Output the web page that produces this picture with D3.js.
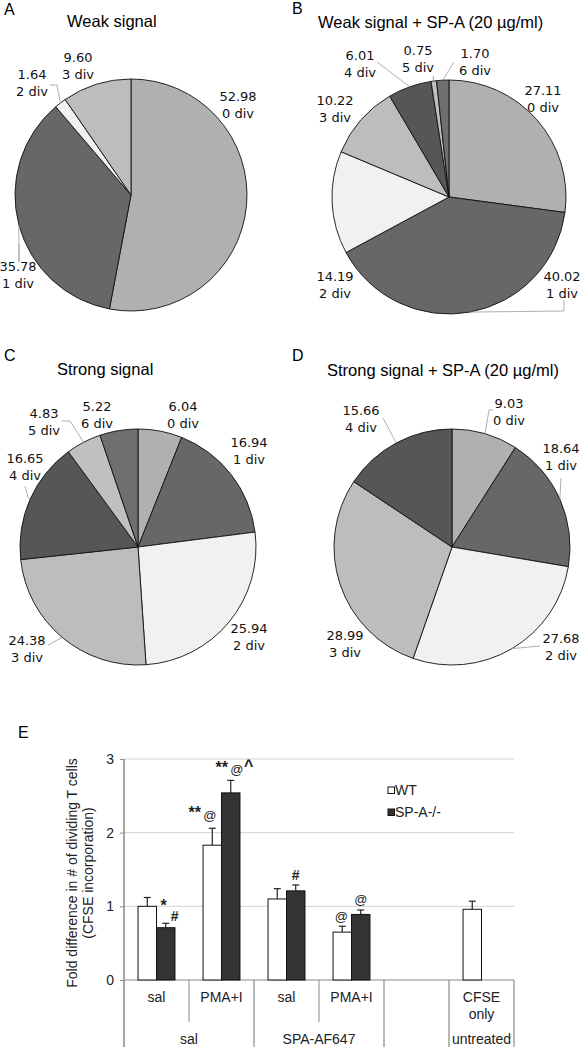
<!DOCTYPE html>
<html><head><meta charset="utf-8">
<script src="https://cdn.jsdelivr.net/npm/d3@7"></script>
<style>body{margin:0;background:#fff}svg{display:block}</style>
</head><body>
<svg id="c" width="582" height="1047"></svg>
<script>
// ---------- data ----------
const divLabels = ["0 div","1 div","2 div","3 div","4 div","5 div","6 div"];
const pieA = [52.98, 35.78, 1.64, 9.60];
const pieB = [27.11, 40.02, 14.19, 10.22, 6.01, 0.75, 1.70];
const pieC = [6.04, 16.94, 25.94, 24.38, 16.65, 4.83, 5.22];
const pieD = [9.03, 18.64, 27.68, 28.99, 15.66];
const pieTitles = ["Weak signal","Weak signal + SP-A (20 µg/ml)","Strong signal","Strong signal + SP-A (20 µg/ml)"];
const panelLetters = ["A","B","C","D","E"];

const barCategories = ["sal","PMA+I","sal","PMA+I","","CFSE only"];
const barGroups = ["sal","SPA-AF647","untreated"];
const seriesNames = ["WT","SP-A-/-"];
const wtValues  = [1.00, 1.83, 1.10, 0.65, null, 0.96];
const wtErrors  = [0.12, 0.23, 0.14, 0.08, null, 0.11];
const spaValues = [0.71, 2.54, 1.21, 0.89, null, null];
const spaErrors = [0.06, 0.17, 0.08, 0.06, null, null];
const yTicks = [0,1,2,3];
const yTitle = ["Fold difference in # of dividing T cells","(CFSE incorporation)"];

(function(){
// ---------- styling / layout ----------
const sliceColors = ["#b0b0b0","#676767","#f1f1f1","#bdbdbd","#565656","#c0c0c0","#6f6f6f"];
const svg = d3.select("#c");
const sans = "Liberation Sans, Arial, sans-serif";
const verd = "DejaVu Sans, Verdana, sans-serif";

const pies = [
  {vals: pieA, cx:131, cy:195, r:116, letter:[4,15], title:[67,27],
   labels:[[238,96],[18,266],[32,74],[78,57]],
   leaders:[null,[[19,244],[19,262]],[[50,85],[57,85]],null]},
  {vals: pieB, cx:449, cy:197, r:117, letter:[292,14], title:[318,28],
   labels:[[543,90],[562,276],[335,276],[335,100],[360,55],[418,50],[475,53]],
   leaders:[null,[[564,300],[564,311]],null,null,[[377,62]],[[433,76]],[[454,62]]]},
  {vals: pieC, cx:138, cy:547, r:118, letter:[4,361], title:[57,375],
   labels:[[183,406],[249,442],[249,628],[27,640],[25,458],[44,413],[97,406]],
   leaders:[null,null,null,[[48,645]],[[25,486],[28,497]],[[62,421],[70,421]],null]},
  {vals: pieD, cx:452, cy:547, r:118, letter:[292,361], title:[327,376],
   labels:[[509,403],[561,448],[561,638],[345,635],[361,410]],
   leaders:[[[493,410],[489,410]],[[561,478]],[[540,646]],null,[[383,418]]]}
];

pies.forEach((p,pi)=>{
  const g = svg.append("g");
  g.append("text").attr("x",p.letter[0]).attr("y",p.letter[1]).attr("font-family",sans)
    .attr("font-size",16).text(panelLetters[pi]);
  g.append("text").attr("x",p.title[0]).attr("y",p.title[1]).attr("font-family",sans)
    .attr("font-size",16.5).text(pieTitles[pi]);
  const arcs = d3.pie().sort(null).value(d=>d)(p.vals);
  const arc = d3.arc().innerRadius(0).outerRadius(p.r);
  const pg = g.append("g").attr("transform",`translate(${p.cx},${p.cy})`);
  pg.selectAll("path").data(arcs).join("path")
    .attr("d",arc).attr("fill",(d,i)=>sliceColors[i])
    .attr("stroke","#111").attr("stroke-width",0.9);
  arcs.forEach((a,i)=>{
    const L = p.leaders[i];
    if(!L) return;
    const m = (a.startAngle+a.endAngle)/2;
    const ex = p.cx + p.r*Math.sin(m), ey = p.cy - p.r*Math.cos(m);
    const pts = L.concat([[ex,ey]]);
    g.append("path").attr("d",d3.line()(pts)).attr("fill","none")
      .attr("stroke","#9a9a9a").attr("stroke-width",0.8);
  });
  arcs.forEach((a,i)=>{
    const [lx,ly] = p.labels[i];
    const t = g.append("text").attr("font-family",verd).attr("font-size",13)
      .attr("text-anchor","middle").attr("fill","#111");
    t.append("tspan").attr("x",lx).attr("y",ly+4.5).text(p.vals[i].toFixed(2));
    t.append("tspan").attr("x",lx).attr("y",ly+21.5).text(divLabels[i]);
  });
});

// ---------- bar chart E ----------
svg.append("text").attr("x",18).attr("y",738).attr("font-family",sans).attr("font-size",16).text("E");
const xLeft=124, xRight=514, yTop=759, zeroY=980, yBottom=1047;
const y = d3.scaleLinear().domain([0,3]).range([zeroY, yTop]);
const x = d3.scaleBand().domain(d3.range(barCategories.length)).range([xLeft,xRight]).padding(0);
const xs = d3.scaleBand().domain(seriesNames).range([0,x.bandwidth()]).paddingInner(0).paddingOuter(0.76);

const eg = svg.append("g");
eg.selectAll(".grid").data(yTicks.filter(t=>t>0)).join("line")
  .attr("x1",xLeft).attr("x2",xRight).attr("y1",d=>y(d)).attr("y2",d=>y(d))
  .attr("stroke","#d2d2d2").attr("stroke-width",1);
const yAxis = d3.axisLeft(y).tickValues(yTicks).tickFormat(d3.format("d")).tickSize(4).tickPadding(6);
const ya = eg.append("g").attr("transform",`translate(${xLeft},0)`).call(yAxis);
ya.select(".domain").remove();
ya.selectAll("line").attr("stroke","#8a8a8a");
ya.selectAll("text").attr("font-family",sans).attr("font-size",14).attr("fill","#222");
eg.append("line").attr("x1",xLeft).attr("x2",xLeft).attr("y1",yTop).attr("y2",yBottom).attr("stroke","#8a8a8a").attr("stroke-width",1.5);
eg.append("line").attr("x1",xLeft).attr("x2",xRight).attr("y1",zeroY).attr("y2",zeroY).attr("stroke","#8a8a8a").attr("stroke-width",1.2);
const shortSep = [1,3], fullSep=[2,4,5,6];
shortSep.forEach(i=>{
  const xx = xLeft + i*x.bandwidth();
  eg.append("line").attr("x1",xx).attr("x2",xx).attr("y1",zeroY).attr("y2",1022).attr("stroke","#8a8a8a").attr("stroke-width",1);
});
fullSep.forEach(i=>{
  const xx = xLeft + i*x.bandwidth();
  eg.append("line").attr("x1",xx).attr("x2",xx).attr("y1",zeroY).attr("y2",yBottom).attr("stroke","#8a8a8a").attr("stroke-width",1.2);
});
barCategories.forEach((c,i)=>{
  if(!c) return;
  const cx = x(i)+x.bandwidth()/2;
  const words = c==="CFSE only" ? ["CFSE","only"] : [c];
  words.forEach((w,k)=>eg.append("text").attr("x",cx).attr("y",1002+k*17).attr("text-anchor","middle")
    .attr("font-family",sans).attr("font-size",14).attr("fill","#222").text(w));
});
const groupSpans = [[0,2],[2,4],[5,6]];
barGroups.forEach((gname,i)=>{
  const [a,b] = groupSpans[i];
  const cx = (x(a) + x(b-1)+x.bandwidth())/2;
  eg.append("text").attr("x",cx).attr("y",1044).attr("text-anchor","middle")
    .attr("font-family",sans).attr("font-size",14).attr("fill","#222").text(gname);
});
const series = [
  {name:seriesNames[0], vals:wtValues, errs:wtErrors, fill:"#ffffff"},
  {name:seriesNames[1], vals:spaValues, errs:spaErrors, fill:"#333333"}
];
series.forEach(s=>{
  const data = s.vals.map((v,i)=>({i,v,e:s.errs[i]})).filter(d=>d.v!=null);
  data.forEach(d=>{
    const bx = x(d.i)+xs(s.name)+xs.bandwidth()/2;
    eg.append("line").attr("x1",bx).attr("x2",bx).attr("y1",y(d.v)).attr("y2",y(d.v+d.e)).attr("stroke","#222").attr("stroke-width",1.2);
    eg.append("line").attr("x1",bx-3.5).attr("x2",bx+3.5).attr("y1",y(d.v+d.e)).attr("y2",y(d.v+d.e)).attr("stroke","#222").attr("stroke-width",1.2);
  });
  eg.selectAll(null).data(data).join("rect")
    .attr("x",d=>x(d.i)+xs(s.name)).attr("width",xs.bandwidth())
    .attr("y",d=>y(d.v)).attr("height",d=>zeroY-y(d.v))
    .attr("fill",s.fill).attr("stroke","#111").attr("stroke-width",1);
});
const annotations = [
  {cat:0, s:1, text:"*", dx:-2, yv:0.93, bold:true, size:16},
  {cat:0, s:1, text:"#", dx:9, yv:0.80, bold:true, size:14},
  {cat:1, s:0, text:"**", dx:-17.5, yv:2.20, bold:true, size:16},
  {cat:1, s:0, text:"@", dx:-2.5, yv:2.17, bold:false, size:13},
  {cat:1, s:1, text:"**", dx:-9, yv:2.81, bold:true, size:16},
  {cat:1, s:1, text:"@", dx:6, yv:2.80, bold:false, size:13},
  {cat:1, s:1, text:"^", dx:18, yv:2.84, bold:true, size:16},
  {cat:2, s:1, text:"#", dx:0, yv:1.36, bold:true, size:14},
  {cat:3, s:0, text:"@", dx:-1, yv:0.80, bold:false, size:13},
  {cat:3, s:1, text:"@", dx:0, yv:1.03, bold:false, size:13}
];
annotations.forEach(a=>{
  const bx = x(a.cat)+xs(seriesNames[a.s])+xs.bandwidth()/2 + a.dx;
  eg.append("text").attr("x",bx).attr("y",y(a.yv)).attr("text-anchor","middle")
    .attr("font-family",sans).attr("font-size",a.size).attr("font-weight",a.bold?"bold":"normal")
    .attr("fill","#222").text(a.text);
});
series.forEach((s,i)=>{
  const ly = 787 + i*22;
  eg.append("rect").attr("x",388).attr("y",ly).attr("width",6.5).attr("height",6.5)
    .attr("fill",s.fill).attr("stroke","#111").attr("stroke-width",1);
  eg.append("text").attr("x",395).attr("y",ly+8).attr("font-family",sans).attr("font-size",14)
    .attr("fill","#222").text(s.name);
});
yTitle.forEach((t,k)=>{
  const tx = 77 + k*16, ty = 873;
  eg.append("text").attr("transform",`translate(${tx},${ty}) rotate(-90)`).attr("text-anchor","middle")
    .attr("font-family",sans).attr("font-size",14).attr("fill","#222").text(t);
});
})();
</script>
</body></html>
